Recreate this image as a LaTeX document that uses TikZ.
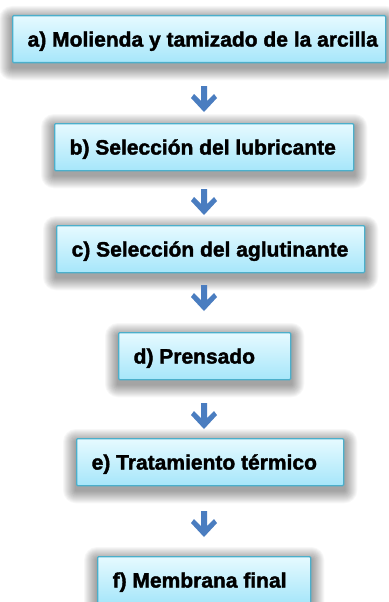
\documentclass[tikz,border=0pt]{standalone}
\usepackage{fontspec}
\newfontfamily\boxfont{Liberation Sans}[FakeStretch=1.01,FakeBold=1.8]
\usetikzlibrary{backgrounds,calc}
\definecolor{boxborder}{HTML}{4BAFCB}
\definecolor{boxtop}{HTML}{E6FAFF}
\definecolor{boxbottom}{HTML}{A6E6FA}
\definecolor{arrowblue}{HTML}{4A7DC0}
\tikzset{
  stepbox/.style={draw=boxborder, line width=1.3pt, top color=boxtop, bottom color=boxbottom,
    rounded corners=1pt, anchor=north west, minimum height=47pt, inner xsep=15pt, inner ysep=0pt,
    text height=14.8pt, text depth=0pt,
    font=\boxfont\bfseries\fontsize{20.8}{22}\selectfont},
  blockarrow/.pic={\fill[arrowblue] (-3,0) -- (3,0) -- (3,15) -- (10,8) -- (13,12) -- (0,26)
      -- (-13,12) -- (-10,8) -- (-3,15) -- cycle;}
}
\newcommand{\boxtext}[2]{\makebox[\dimexpr #1pt-30pt\relax][l]{#2}}
\begin{document}
\begin{tikzpicture}[x=1pt,y=-1pt]
\useasboundingbox (0,0) rectangle (388,602);
\node[stepbox] (a) at (12,15) {\boxtext{373}{a) Molienda y tamizado de la arcilla}};
\node[stepbox] (b) at (54,123) {\boxtext{299}{b) Selección del lubricante}};
\node[stepbox] (c) at (56,225) {\boxtext{308}{c) Selección del aglutinante}};
\node[stepbox] (d) at (118,332) {\boxtext{172}{d) Prensado}};
\node[stepbox] (e) at (76,438) {\boxtext{267}{e) Tratamiento térmico}};
\node[stepbox] (f) at (97,556) {\boxtext{213}{f) Membrana final}};
\begin{scope}[on background layer]
\fill[white] (0,0) rectangle (388,602);
\foreach \n in {a,b,c,d,e,f}{
  \foreach \i in {1,...,13}{
    \fill[black, opacity=0.03, rounded corners=\i pt]
      ([shift={(-\i,-\i+4)}]\n.north west) rectangle ([shift={(\i,\i+4)}]\n.south east);
  }
}
\end{scope}
\coordinate (ab) at (204,86);
\coordinate (bc) at (204,189);
\coordinate (cd) at (204,285);
\coordinate (de) at (204,403);
\coordinate (ef) at (204,511);
\foreach \p in {ab,bc,cd,de,ef}{\pic at (\p) {blockarrow};}
\end{tikzpicture}
\end{document}
